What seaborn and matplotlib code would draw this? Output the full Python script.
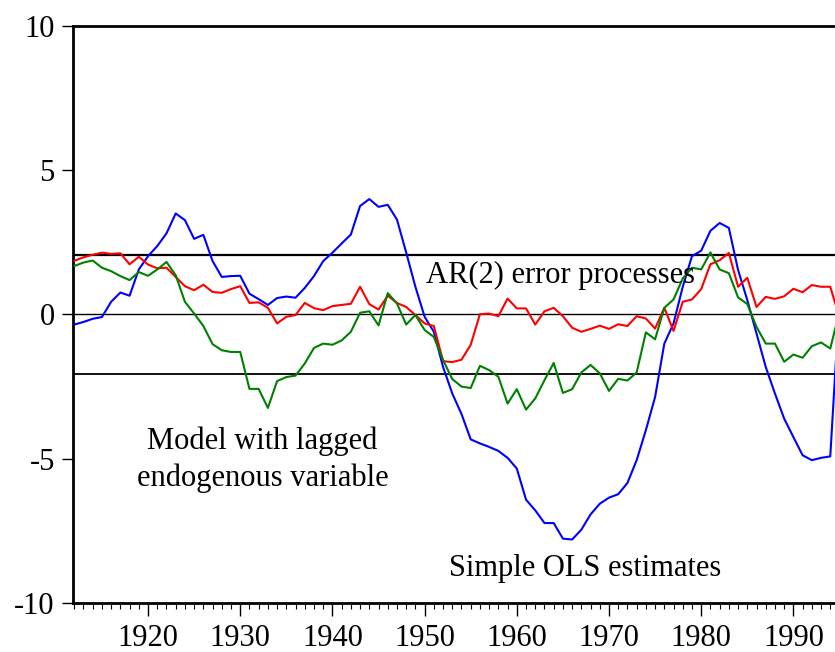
import numpy as np
import pandas as pd
import matplotlib
matplotlib.use("Agg")
import matplotlib.pyplot as plt
import seaborn as sns
from matplotlib.ticker import MultipleLocator

# data (1912-1995)
years = np.arange(1912, 1996)

ols_simple = [-0.35, -0.26, -0.15, -0.09, 0.44, 0.76, 0.65, 1.56, 2.02, 2.37,
              2.81, 3.50, 3.27, 2.62, 2.76, 1.85, 1.30, 1.33, 1.34, 0.72,
              0.53, 0.33, 0.57, 0.62, 0.58, 0.92, 1.33, 1.85, 2.14, 2.46,
              2.77, 3.76, 4.00, 3.73, 3.80, 3.29, 2.15, 0.96, -0.08, -0.60,
              -1.82, -2.74, -3.45, -4.33, -4.47, -4.59, -4.73, -4.97, -5.34, -6.42,
              -6.79, -7.23, -7.23, -7.77, -7.80, -7.46, -6.93, -6.56, -6.35, -6.23,
              -5.84, -5.05, -4.01, -2.86, -1.01, -0.31, 0.96, 2.02, 2.21, 2.90,
              3.17, 3.00, 1.54, 0.50, -0.66, -1.82, -2.74, -3.61, -4.25, -4.88,
              -5.05, -4.97, -4.92, 0.50]

ar2_errors = [1.86, 1.98, 2.07, 2.14, 2.10, 2.12, 1.74, 2.00, 1.73, 1.60,
              1.62, 1.30, 0.98, 0.84, 1.03, 0.78, 0.75, 0.88, 0.98, 0.40,
              0.42, 0.23, -0.31, -0.08, -0.02, 0.40, 0.22, 0.15, 0.29, 0.33,
              0.37, 0.96, 0.36, 0.17, 0.65, 0.40, 0.26, -0.02, -0.31, -0.40,
              -1.62, -1.65, -1.57, -1.05, 0.01, 0.03, -0.06, 0.55, 0.21, 0.21,
              -0.35, 0.11, 0.23, -0.06, -0.46, -0.60, -0.50, -0.39, -0.50, -0.34,
              -0.40, -0.06, -0.14, -0.49, 0.23, -0.57, 0.44, 0.52, 0.88, 1.74,
              1.88, 2.13, 0.96, 1.27, 0.26, 0.61, 0.54, 0.63, 0.89, 0.77,
              1.02, 0.96, 0.96, -0.10]

lagged_endog = [1.68, 1.80, 1.87, 1.62, 1.50, 1.33, 1.19, 1.47, 1.34, 1.56,
                1.82, 1.36, 0.44, 0.03, -0.40, -1.03, -1.24, -1.30, -1.30, -2.58,
                -2.58, -3.24, -2.31, -2.17, -2.12, -1.70, -1.16, -1.01, -1.05, -0.90,
                -0.60, 0.06, 0.11, -0.38, 0.74, 0.38, -0.35, -0.02, -0.54, -0.78,
                -1.58, -2.24, -2.50, -2.55, -1.78, -1.93, -2.16, -3.09, -2.59, -3.30,
                -2.91, -2.28, -1.68, -2.72, -2.59, -2.01, -1.75, -2.04, -2.65, -2.23,
                -2.29, -2.01, -0.62, -0.86, 0.23, 0.52, 1.25, 1.62, 1.56, 2.15,
                1.56, 1.43, 0.59, 0.36, -0.43, -1.01, -1.01, -1.64, -1.39, -1.50,
                -1.10, -0.97, -1.18, 0.10]

band = 2.06  # the two horizontal bounds

df = pd.DataFrame({"year": years, "ols": ols_simple,
                   "ar2": ar2_errors, "lag": lagged_endog})

sns.set_style("white")
plt.rcParams["font.family"] = ["Liberation Serif", "DejaVu Serif"]
plt.rcParams["font.size"] = 22
plt.rcParams["text.color"] = "black"
plt.rcParams["xtick.color"] = "black"
plt.rcParams["ytick.color"] = "black"

fig = plt.figure(figsize=(8.35, 6.52), dpi=100)
ax = fig.add_axes([0.0873, 0.0752, 0.9236, 0.885])

# horizontal reference lines
ax.axhline(band, color="black", lw=1.6, zorder=1)
ax.axhline(0, color="black", lw=1.0, zorder=1)
ax.axhline(-band, color="black", lw=1.3, zorder=1)

sns.lineplot(data=df, x="year", y="ols", color="#0000ff", lw=1.5, ax=ax, zorder=3)
sns.lineplot(data=df, x="year", y="ar2", color="#ff0000", lw=1.5, ax=ax, zorder=3)
sns.lineplot(data=df, x="year", y="lag", color="#008000", lw=1.5, ax=ax, zorder=3)

ax.set_xlim(1911.85, 1995.5)
ax.set_ylim(-10, 10)
ax.set_xlabel("")
ax.set_ylabel("")
ax.set_yticks([-10, -5, 0, 5, 10])
ax.set_yticklabels(["-10", "-5", "0", "5", "10"])
ax.xaxis.set_major_locator(MultipleLocator(10))
ax.xaxis.set_minor_locator(MultipleLocator(1))
ax.tick_params(axis="x", which="major", direction="out", length=9, width=1.0,
               pad=6, labelsize=22, bottom=True, labelcolor="black")
ax.tick_params(axis="x", which="minor", direction="out", length=4, width=0.8,
               bottom=True)
ax.tick_params(axis="y", which="major", direction="out", length=8, width=1.0,
               pad=5, labelsize=22, left=True, labelcolor="black")

for side in ["left", "bottom", "top"]:
    ax.spines[side].set_linewidth(2.0)
    ax.spines[side].set_color("black")
ax.spines["right"].set_visible(False)

# annotations
ax.text(1964.7, 1.36, "AR(2) error processes", ha="center", va="center",
        fontsize=22, color="black")
ax.text(1932.4, -5.04, "Model with lagged\nendogenous variable", ha="center",
        va="center", multialignment="center", fontsize=22, linespacing=1.3,
        color="black")
ax.text(1967.4, -8.80, "Simple OLS estimates", ha="center", va="center",
        fontsize=22, color="black")

fig.savefig("out.png", dpi=100)
